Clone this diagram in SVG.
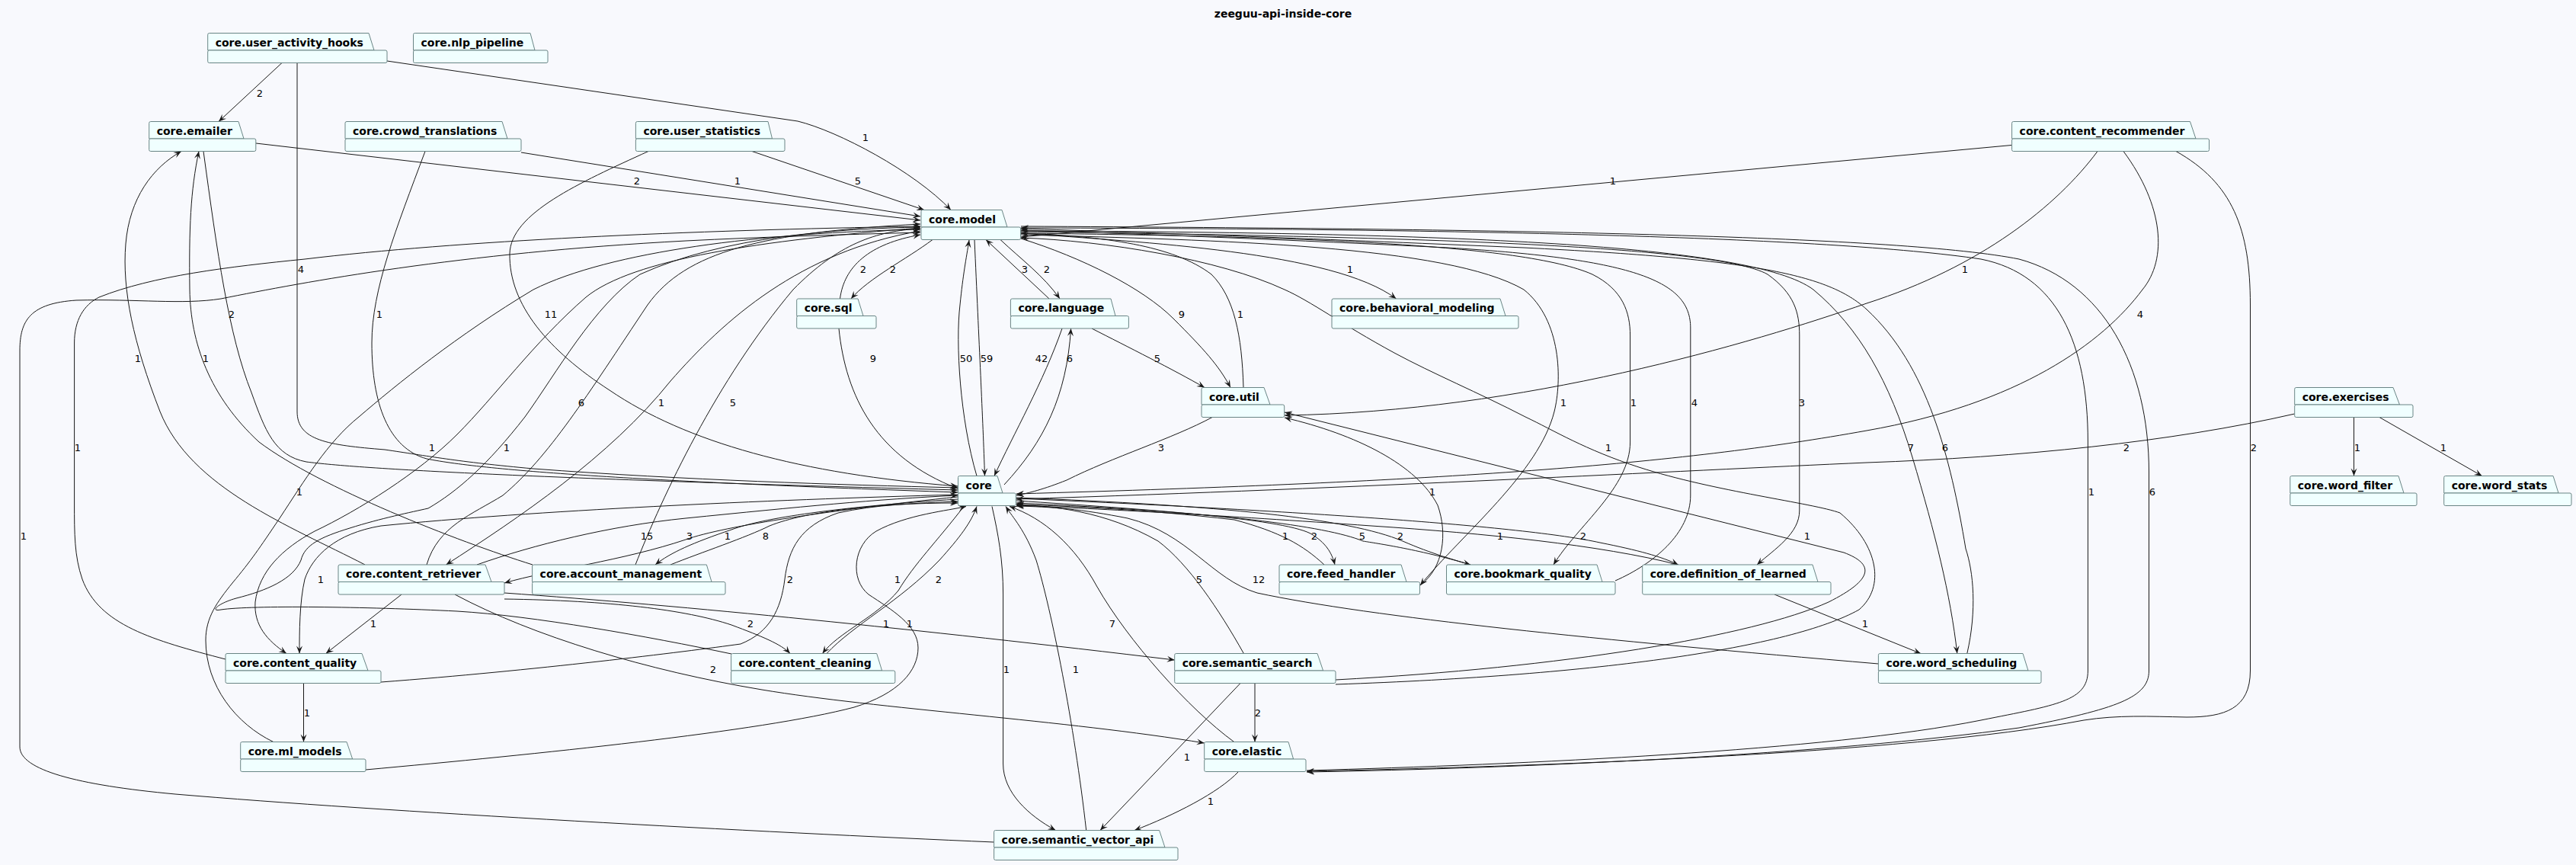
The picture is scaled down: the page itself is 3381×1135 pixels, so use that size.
<svg xmlns="http://www.w3.org/2000/svg" width="3381" height="1135" viewBox="0 0 3381 1135">
<defs>
<style>
.bg{fill:#F8F9FD}
.tab,.body{fill:#F0FFFF;stroke:#6A8585;stroke-width:1}
.nl{font-family:"DejaVu Sans",sans-serif;font-weight:bold;font-size:14px;fill:#000}
.e{fill:none;stroke:#181818;stroke-width:1;marker-end:url(#ah)}
.lb{font-family:"DejaVu Sans",sans-serif;font-size:13px;fill:#000;text-anchor:middle}
.title{font-family:"DejaVu Sans",sans-serif;font-weight:bold;font-size:14px;fill:#000;text-anchor:middle}
</style>
<marker id="ah" viewBox="-11 -5 12 10" refX="0" refY="0" markerWidth="12" markerHeight="10" markerUnits="userSpaceOnUse" orient="auto"><path d="M0,0 L-10,-4 L-6,0 L-10,4 Z" fill="#181818"/></marker>
</defs>
<rect class="bg" x="0" y="0" width="3381" height="1135"/>
<text class="title" x="1684" y="23">zeeguu-api-inside-core</text>

<g id="connectors">
<path class="e" d="M370,82.5 L287,159.5"/><text class="lb" x="341" y="127">2</text>
<path class="e" d="M508,80 L1047,159 C1100,172 1200,225 1248,275.5"/><text class="lb" x="1136" y="185">1</text>
<path class="e" d="M390,82.5 L390,540 C390,578 430,584 505,590 C560,598 600,606 700,615 C900,630 1100,636 1257,640"/><text class="lb" x="395" y="358">4</text>
<path class="e" d="M336,188 L1208,289"/><text class="lb" x="836" y="242">2</text>
<path class="e" d="M267,198.5 C285,330 300,440 330,515 C348,565 360,598 402,606 C470,615 700,628 1257,643"/><text class="lb" x="304" y="417">2</text>
<path class="e" d="M684,200 L1208,284"/><text class="lb" x="968" y="242">1</text>
<path class="e" d="M558,198.5 C520,300 488,380 488,450 C488,530 510,588 560,602 C640,618 850,632 1257,646"/><text class="lb" x="498" y="417">1</text>
<path class="e" d="M987,198.5 L1213,275.5"/><text class="lb" x="1126" y="242">5</text>
<path class="e" d="M851,198.5 C760,240 670,280 669,333 C668,400 720,460 800,512 C900,580 1050,622 1257,638"/><text class="lb" x="723" y="417">11</text>
<path class="e" d="M2640,190.5 L1340,311"/><text class="lb" x="2117" y="242">1</text>
<path class="e" d="M2753,198.5 C2700,270 2600,350 2450,398 C2300,450 2000,540 1686,545"/><text class="lb" x="2579" y="358">1</text>
<path class="e" d="M2787,198.5 C2840,270 2845,340 2812,380 C2760,450 2650,530 2450,565 C2200,610 1900,632 1334,648"/><text class="lb" x="2809" y="417">4</text>
<path class="e" d="M2856,198.5 C2930,240 2953.5,300 2953.5,400 L2953.5,880 C2953.5,930 2920,941 2870,941 C2820,940 2780,938 2735,945 C2500,990 2000,1006 1715,1012"/><text class="lb" x="2958" y="592">2</text>
<path class="e" d="M3011.7,543 C2850,580 2650,600 2450,607 C2200,618 1800,640 1334,655"/><text class="lb" x="2791" y="592">2</text>
<path class="e" d="M3089.5,547.5 L3089.5,624.5"/><text class="lb" x="3094" y="592">1</text>
<path class="e" d="M3123,547.5 L3257.6,624.5"/><text class="lb" x="3207" y="592">1</text>
<path class="e" d="M1340,306 C1500,318 1750,330 1832.5,392"/><text class="lb" x="1772" y="358">1</text>
<path class="e" d="M1224,314.5 C1190,340 1140,365 1117,392"/><text class="lb" x="1172" y="358">2</text>
<path class="e" d="M1102.5,392 C1108,350 1140,320 1208,308"/><text class="lb" x="1133" y="358">2</text>
<path class="e" d="M1377,392 L1294,314.5"/><text class="lb" x="1345" y="358">3</text>
<path class="e" d="M1313,314.5 C1340,340 1370,362 1391,392"/><text class="lb" x="1374" y="358">2</text>
<path class="e" d="M1340,313 C1420,338 1500,378 1540,418 C1580,458 1600,480 1615,508.5"/><text class="lb" x="1551" y="417">9</text>
<path class="e" d="M1632,508.5 C1630,440 1620,390 1590,360 C1540,322 1450,310 1340,306"/><text class="lb" x="1628" y="417">1</text>
<path class="e" d="M1279,314.5 C1285,450 1290,550 1292.5,624.5"/><text class="lb" x="1295" y="475">59</text>
<path class="e" d="M1282,624.5 C1260,550 1254,450 1260,400 C1264,360 1268,340 1272,315"/><text class="lb" x="1268" y="475">50</text>
<path class="e" d="M1101,431 C1110,520 1150,600 1257,641"/><text class="lb" x="1146" y="475">9</text>
<path class="e" d="M1394,431 C1370,500 1330,570 1305,624.5"/><text class="lb" x="1367" y="475">42</text>
<path class="e" d="M1318,636 C1370,580 1400,520 1405.6,431"/><text class="lb" x="1404" y="475">6</text>
<path class="e" d="M1433,431 C1480,455 1540,485 1581,508.5"/><text class="lb" x="1519" y="475">5</text>
<path class="e" d="M1591,547.5 C1540,575 1460,600 1400,630 C1370,642 1350,647 1334,650"/><text class="lb" x="1524" y="592">3</text>
<path class="e" d="M479,741 C380,690 250,640 210,540 C175,450 160,380 165,320 C170,260 200,220 238,198.5"/><text class="lb" x="181" y="475">1</text>
<path class="e" d="M699,741 C600,710 420,640 340,580 C275,520 250,450 249,380 C248,300 250,250 261,198.5"/><text class="lb" x="270" y="475">1</text>
<path class="e" d="M834,741 C870,650 940,500 1041,380 C1100,320 1150,303 1208,300"/><text class="lb" x="962" y="533">5</text>
<path class="e" d="M560,741 C575,690 620,675 660,650 C720,600 770,520 850,400 C900,330 1000,305 1208,294"/><text class="lb" x="763" y="533">6</text>
<path class="e" d="M1208,303 C1050,330 950,420 880,500 C800,600 680,680 585.5,741"/><text class="lb" x="868" y="533">1</text>
<path class="e" d="M626,741 C700,715 800,690 900,680 C1050,665 1150,655 1257,650"/><text class="lb" x="849" y="708">15</text>
<path class="e" d="M1257,652 C1100,668 950,690 900,708 C820,735 720,748 662,765"/><text class="lb" x="905" y="708">3</text>
<path class="e" d="M1257,655 C1100,665 1000,680 960,695 C910,712 880,725 860,741"/><text class="lb" x="955" y="708">1</text>
<path class="e" d="M880,741 C920,725 980,705 1010,690 C1060,670 1150,662 1257,658"/><text class="lb" x="1005" y="708">8</text>
<path class="e" d="M296,865 C200,840 130,820 108,760 C97.6,730 97.6,700 97.6,660 L97.6,450 C97.6,420 110,400 130,390 C200,362 300,350 400,340 C600,316 900,302 1208,297"/><text class="lb" x="102" y="592">1</text>
<path class="e" d="M1304.6,1105 C1000,1092 500,1065 230,1042 C100,1030 26,1010 26,980 L26,460 C26,420 40,398 100,394 C180,392 240,400 290,392 C400,370 600,332 900,316 C1000,311 1100,308 1208,305"/><text class="lb" x="31" y="708">1</text>
<path class="e" d="M1208,299 C1000,315 830,340 769,390 C700,450 650,520 600,570 C550,620 470,670 413,697 C370,720 340,750 335,790 C333,820 350,840 376,857.5"/><text class="lb" x="567" y="592">1</text>
<path class="e" d="M1257,649 C1000,656 700,670 500,690 C440,700 410,730 400,760 C393,790 393,830 393,857.5"/><text class="lb" x="421" y="765">1</text>
<path class="e" d="M358.8,973.5 C310,950 270,900 270,840 C270,810 285,790 305,765 C330,735 340,720 367,680 C400,630 430,580 471,547 C520,505 600,440 700,380 C800,330 1000,305 1208,301"/><text class="lb" x="393" y="650">1</text>
<path class="e" d="M960,858 C850,835 700,808 600,802 C480,796 330,794 290,800 C275,803 285,792 310,785 C350,775 385,760 395,735 C400,715 420,705 459,693 C500,680 540,672 562,667 C600,645 640,610 689,547 C730,490 780,400 840,360 C950,310 1100,300 1208,298"/><text class="lb" x="665" y="592">1</text>
<path class="e" d="M527,780 L427.7,857.5"/><text class="lb" x="490" y="823">1</text>
<path class="e" d="M398.5,896.5 L398.5,973.5"/><text class="lb" x="403" y="940">1</text>
<path class="e" d="M662,786 C800,788 900,800 960,820 C1000,835 1025,845 1037,857.5"/><text class="lb" x="985" y="823">2</text>
<path class="e" d="M597,780 C700,835 850,880 1000,905 C1150,930 1400,945 1580.7,975"/><text class="lb" x="936" y="883">2</text>
<path class="e" d="M662,778 C900,795 1200,825 1541.7,866"/><text class="lb" x="1163" y="823">1</text>
<path class="e" d="M500,895 C700,880 900,855 972,845 C1010,830 1025,800 1030,760 C1035,720 1050,690 1100,673 C1150,662 1200,660 1257,660"/><text class="lb" x="1037" y="765">2</text>
<path class="e" d="M1265,664.5 C1230,710 1200,740 1179,775 C1150,810 1100,830 1079.5,857.5"/><text class="lb" x="1178" y="765">1</text>
<path class="e" d="M1085,857.5 C1120,820 1180,790 1233,735 C1260,705 1275,685 1282,664.5"/><text class="lb" x="1232" y="765">2</text>
<path class="e" d="M480,1010 C700,990 1000,960 1121,928 C1180,910 1205,880 1205,850 C1205,820 1170,800 1140,780 C1115,760 1120,715 1150,697 C1190,675 1245,670 1268,664.5"/><text class="lb" x="1194" y="823">1</text>
<path class="e" d="M1302,664.5 C1310,700 1316.6,735 1316.6,780 L1316.6,1002 C1316.6,1040 1350,1070 1385.5,1089.5"/><text class="lb" x="1321" y="883">1</text>
<path class="e" d="M1425.7,1089.5 C1410,950 1380,800 1360,735 C1345,695 1330,680 1320,664.5"/><text class="lb" x="1412" y="883">1</text>
<path class="e" d="M1632.4,857.5 C1600,800 1560,740 1520,710 C1450,670 1380,664 1334,662"/><text class="lb" x="1574" y="765">5</text>
<path class="e" d="M2465.4,871 C2100,840 1800,810 1650,778 C1590,760 1560,700 1480,680 C1420,668 1380,665 1334,664"/><text class="lb" x="1652" y="765">12</text>
<path class="e" d="M1619.7,973.5 C1560,930 1480,840 1440,770 C1410,715 1370,680 1325,664.5"/><text class="lb" x="1460" y="823">7</text>
<path class="e" d="M1628,896.5 L1444,1089.5"/><text class="lb" x="1558" y="998">1</text>
<path class="e" d="M1647,896.5 L1647,973.5"/><text class="lb" x="1651" y="940">2</text>
<path class="e" d="M1625.5,1012.5 C1600,1040 1540,1070 1489,1089.5"/><text class="lb" x="1589" y="1056">1</text>
<path class="e" d="M1753,892 C2050,876 2300,835 2400,790 C2460,760 2460,740 2420,725 L1686,541"/><text class="lb" x="2372" y="708">1</text>
<path class="e" d="M1753,898 C2100,886 2350,850 2440,800 C2475,770 2465,715 2415,673 C2380,660 2250,645 2151,613 C2080,590 2040,565 2002,547 C1940,515 1880,490 1830,463 C1760,425 1720,395 1686,380 C1600,340 1450,316 1340,312"/><text class="lb" x="2111" y="592">1</text>
<path class="e" d="M1340,308 C1600,315 1900,322 2000,380 C2050,420 2050,500 2040,540 C2020,620 1920,700 1864,768"/><text class="lb" x="2052" y="533">1</text>
<path class="e" d="M1864,768 C1895,745 1900,700 1887,663 C1860,610 1780,570 1686,548"/><text class="lb" x="1880" y="650">1</text>
<path class="e" d="M1334,657 C1500,668 1680,680 1720,700 C1740,712 1748,725 1752,741"/><text class="lb" x="1725" y="708">2</text>
<path class="e" d="M1738,741 C1710,715 1680,698 1620,682 C1500,668 1400,664 1334,662"/><text class="lb" x="1687" y="708">1</text>
<path class="e" d="M1334,653 C1600,663 1770,680 1841,710 C1880,727 1910,735 1930,741"/><text class="lb" x="1838" y="708">2</text>
<path class="e" d="M1930,741 C1860,720 1800,712 1789,710 C1740,690 1600,672 1334,660"/><text class="lb" x="1788" y="708">5</text>
<path class="e" d="M1340,306 C1700,310 2000,320 2090,360 C2130,380 2139.6,410 2139.6,440 L2139.6,580 C2139.6,640 2070,690 2039,741"/><text class="lb" x="2144" y="533">1</text>
<path class="e" d="M2120,762 C2170,740 2218.8,700 2218.8,650 L2218.8,430 C2218.8,370 2150,340 1900,325 C1700,315 1500,307 1340,302"/><text class="lb" x="2224" y="533">4</text>
<path class="e" d="M1334,654 C1700,670 2000,690 2100,712 C2150,722 2180,730 2202.7,741"/><text class="lb" x="2078" y="708">2</text>
<path class="e" d="M2202.7,741 C2100,715 1950,700 1800,690 C1600,676 1450,668 1334,663"/><text class="lb" x="1969" y="708">1</text>
<path class="e" d="M1340,304 C1800,310 2250,320 2320,360 C2355,385 2361.8,410 2361.8,440 L2361.8,670 C2361.8,700 2330,720 2306,741"/><text class="lb" x="2365" y="533">3</text>
<path class="e" d="M2329,780 L2521,857.5"/><text class="lb" x="2448" y="823">1</text>
<path class="e" d="M1340,303 C1900,305 2300,320 2380,380 C2440,430 2480,500 2510,600 C2540,700 2560,780 2568.8,857.5"/><text class="lb" x="2508" y="592">7</text>
<path class="e" d="M2581.8,857.5 C2595,800 2590,750 2580,720 C2560,600 2530,480 2450,406 C2400,360 2300,340 2000,325 C1700,312 1500,305 1340,300"/><text class="lb" x="2553" y="592">6</text>
<path class="e" d="M1340,297 C2000,300 2500,310 2650,340 C2760,370 2820.5,480 2820.5,620 L2820.5,880 C2820.5,915 2780,930 2650,955 C2400,990 2000,1008 1715,1013"/><text class="lb" x="2825" y="650">6</text>
<path class="e" d="M1715,1011 C2000,1003 2400,985 2600,945 C2700,925 2740.4,920 2740.4,880 L2740.4,580 C2740.4,450 2700,360 2600,340 C2400,310 1900,300 1340,299"/><text class="lb" x="2745" y="650">1</text>
</g>

<g id="core.user_activity_hooks"><path class="tab" d="M272.7,66 V45.5 Q272.7,43.5 274.7,43.5 H484 L491,66 Z"/><rect class="body" x="272.7" y="66" width="235.3" height="16.5" rx="2"/><text class="nl" x="282.7" y="60.5">core.user_activity_hooks</text></g>
<g id="core.nlp_pipeline"><path class="tab" d="M542.5,66 V45.5 Q542.5,43.5 544.5,43.5 H696 L702,66 Z"/><rect class="body" x="542.5" y="66" width="176.5" height="16.5" rx="2"/><text class="nl" x="552.5" y="60.5">core.nlp_pipeline</text></g>
<g id="core.emailer"><path class="tab" d="M195.7,182 V161.5 Q195.7,159.5 197.7,159.5 H313 L320,182 Z"/><rect class="body" x="195.7" y="182" width="140.1" height="16.5" rx="2"/><text class="nl" x="205.7" y="176.5">core.emailer</text></g>
<g id="core.crowd_translations"><path class="tab" d="M453,182 V161.5 Q453,159.5 455,159.5 H659 L666,182 Z"/><rect class="body" x="453" y="182" width="231" height="16.5" rx="2"/><text class="nl" x="463" y="176.5">core.crowd_translations</text></g>
<g id="core.user_statistics"><path class="tab" d="M834.4,182 V161.5 Q834.4,159.5 836.4,159.5 H1008 L1013.5,182 Z"/><rect class="body" x="834.4" y="182" width="195.6" height="16.5" rx="2"/><text class="nl" x="844.4" y="176.5">core.user_statistics</text></g>
<g id="core.content_recommender"><path class="tab" d="M2640.6,182 V161.5 Q2640.6,159.5 2642.6,159.5 H2874.5 L2882,182 Z"/><rect class="body" x="2640.6" y="182" width="258.9" height="16.5" rx="2"/><text class="nl" x="2650.6" y="176.5">core.content_recommender</text></g>
<g id="core.model"><path class="tab" d="M1209,298 V277.5 Q1209,275.5 1211,275.5 H1315 L1322,298 Z"/><rect class="body" x="1209" y="298" width="130.6" height="16.5" rx="2"/><text class="nl" x="1219" y="292.5">core.model</text></g>
<g id="core.sql"><path class="tab" d="M1045.7,414.5 V394 Q1045.7,392 1047.7,392 H1126 L1133,414.5 Z"/><rect class="body" x="1045.7" y="414.5" width="104.3" height="16.5" rx="2"/><text class="nl" x="1055.7" y="409">core.sql</text></g>
<g id="core.language"><path class="tab" d="M1326.4,414.5 V394 Q1326.4,392 1328.4,392 H1458 L1464,414.5 Z"/><rect class="body" x="1326.4" y="414.5" width="155" height="16.5" rx="2"/><text class="nl" x="1336.4" y="409">core.language</text></g>
<g id="core.behavioral_modeling"><path class="tab" d="M1748,414.5 V394 Q1748,392 1750,392 H1969 L1976,414.5 Z"/><rect class="body" x="1748" y="414.5" width="245" height="16.5" rx="2"/><text class="nl" x="1758" y="409">core.behavioral_modeling</text></g>
<g id="core.util"><path class="tab" d="M1577,531 V510.5 Q1577,508.5 1579,508.5 H1659 L1667,531 Z"/><rect class="body" x="1577" y="531" width="108.7" height="16.5" rx="2"/><text class="nl" x="1587" y="525.5">core.util</text></g>
<g id="core.exercises"><path class="tab" d="M3011.7,531 V510.5 Q3011.7,508.5 3013.7,508.5 H3141 L3149.5,531 Z"/><rect class="body" x="3011.7" y="531" width="155.3" height="16.5" rx="2"/><text class="nl" x="3021.7" y="525.5">core.exercises</text></g>
<g id="core"><path class="tab" d="M1257.5,647 V626.5 Q1257.5,624.5 1259.5,624.5 H1309 L1316,647 Z"/><rect class="body" x="1257.5" y="647" width="75.8" height="16.5" rx="2"/><text class="nl" x="1267.5" y="641.5">core</text></g>
<g id="core.word_filter"><path class="tab" d="M3005.8,647 V626.5 Q3005.8,624.5 3007.8,624.5 H3148 L3155,647 Z"/><rect class="body" x="3005.8" y="647" width="166.2" height="16.5" rx="2"/><text class="nl" x="3015.8" y="641.5">core.word_filter</text></g>
<g id="core.word_stats"><path class="tab" d="M3207.7,647 V626.5 Q3207.7,624.5 3209.7,624.5 H3351 L3358,647 Z"/><rect class="body" x="3207.7" y="647" width="167.3" height="16.5" rx="2"/><text class="nl" x="3217.7" y="641.5">core.word_stats</text></g>
<g id="core.content_retriever"><path class="tab" d="M444,763.5 V743 Q444,741 446,741 H637 L645,763.5 Z"/><rect class="body" x="444" y="763.5" width="218" height="16.5" rx="2"/><text class="nl" x="454" y="758">core.content_retriever</text></g>
<g id="core.account_management"><path class="tab" d="M698.6,763.5 V743 Q698.6,741 700.6,741 H927.4 L934,763.5 Z"/><rect class="body" x="698.6" y="763.5" width="253.4" height="16.5" rx="2"/><text class="nl" x="708.6" y="758">core.account_management</text></g>
<g id="core.feed_handler"><path class="tab" d="M1679,763.5 V743 Q1679,741 1681,741 H1839 L1846,763.5 Z"/><rect class="body" x="1679" y="763.5" width="184.5" height="16.5" rx="2"/><text class="nl" x="1689" y="758">core.feed_handler</text></g>
<g id="core.bookmark_quality"><path class="tab" d="M1898.5,763.5 V743 Q1898.5,741 1900.5,741 H2096 L2103,763.5 Z"/><rect class="body" x="1898.5" y="763.5" width="221.5" height="16.5" rx="2"/><text class="nl" x="1908.5" y="758">core.bookmark_quality</text></g>
<g id="core.definition_of_learned"><path class="tab" d="M2155.7,763.5 V743 Q2155.7,741 2157.7,741 H2379 L2386,763.5 Z"/><rect class="body" x="2155.7" y="763.5" width="247.3" height="16.5" rx="2"/><text class="nl" x="2165.7" y="758">core.definition_of_learned</text></g>
<g id="core.content_quality"><path class="tab" d="M296,880 V859.5 Q296,857.5 298,857.5 H475 L483,880 Z"/><rect class="body" x="296" y="880" width="204" height="16.5" rx="2"/><text class="nl" x="306" y="874.5">core.content_quality</text></g>
<g id="core.content_cleaning"><path class="tab" d="M959.6,880 V859.5 Q959.6,857.5 961.6,857.5 H1150.7 L1157.6,880 Z"/><rect class="body" x="959.6" y="880" width="215.2" height="16.5" rx="2"/><text class="nl" x="969.6" y="874.5">core.content_cleaning</text></g>
<g id="core.semantic_search"><path class="tab" d="M1541.7,880 V859.5 Q1541.7,857.5 1543.7,857.5 H1729 L1736.6,880 Z"/><rect class="body" x="1541.7" y="880" width="211.3" height="16.5" rx="2"/><text class="nl" x="1551.7" y="874.5">core.semantic_search</text></g>
<g id="core.word_scheduling"><path class="tab" d="M2465.4,880 V859.5 Q2465.4,857.5 2467.4,857.5 H2655 L2662,880 Z"/><rect class="body" x="2465.4" y="880" width="213.6" height="16.5" rx="2"/><text class="nl" x="2475.4" y="874.5">core.word_scheduling</text></g>
<g id="core.ml_models"><path class="tab" d="M315.7,996 V975.5 Q315.7,973.5 317.7,973.5 H455 L462.7,996 Z"/><rect class="body" x="315.7" y="996" width="164.3" height="16.5" rx="2"/><text class="nl" x="325.7" y="990.5">core.ml_models</text></g>
<g id="core.elastic"><path class="tab" d="M1580.7,996 V975.5 Q1580.7,973.5 1582.7,973.5 H1691 L1697.6,996 Z"/><rect class="body" x="1580.7" y="996" width="133.3" height="16.5" rx="2"/><text class="nl" x="1590.7" y="990.5">core.elastic</text></g>
<g id="core.semantic_vector_api"><path class="tab" d="M1304.6,1112 V1091.5 Q1304.6,1089.5 1306.6,1089.5 H1521.6 L1529,1112 Z"/><rect class="body" x="1304.6" y="1112" width="241.4" height="16.5" rx="2"/><text class="nl" x="1314.6" y="1106.5">core.semantic_vector_api</text></g>
</svg>
